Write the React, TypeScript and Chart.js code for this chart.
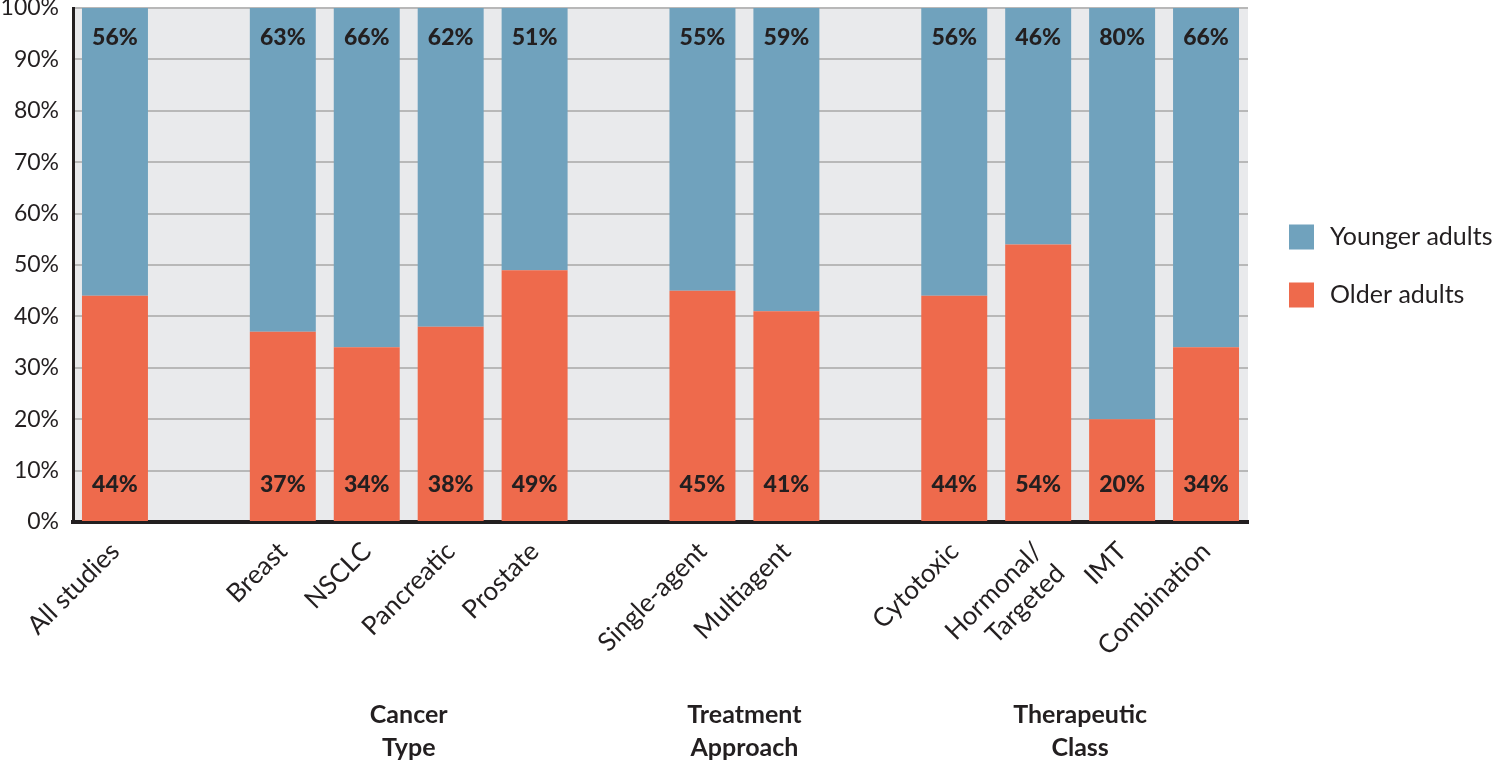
import React, { useEffect, useRef } from "react";
import { Chart, registerables } from "chart.js";

Chart.register(...registerables);

const categories: (string | string[])[] = [
  "All studies", "", "Breast", "NSCLC", "Pancreatic", "Prostate", "",
  "Single-agent", "Multiagent", "", "Cytotoxic", ["Hormonal/", "Targeted"], "IMT", "Combination",
];
const olderAdults = [44, null, 37, 34, 38, 49, null, 45, 41, null, 44, 54, 20, 34];
const youngerAdults = [56, null, 63, 66, 62, 51, null, 55, 59, null, 56, 46, 80, 66];
const groupLabels = [
  { lines: ["Cancer", "Type"], from: 2, to: 5 },
  { lines: ["Treatment", "Approach"], from: 7, to: 8 },
  { lines: ["Therapeutic", "Class"], from: 10, to: 13 },
];
const seriesNames = ["Younger adults", "Older adults"];
const BLUE = "#70a2bd";
const ORANGE = "#ee6a4c";
const INK = "#231f20";
const FONT = "Lato, 'Noto Sans', sans-serif";

export default function App() {
  const ref = useRef<HTMLCanvasElement | null>(null);
  useEffect(() => {
    if (!ref.current) return;
    const plugin = {
      id: "custom",
      beforeDraw(chart: any) {
        const { ctx, chartArea } = chart;
        ctx.save();
        ctx.fillStyle = "#e9eaec";
        ctx.fillRect(chartArea.left, chartArea.top, chartArea.right - chartArea.left, chartArea.bottom - chartArea.top);
        ctx.restore();
      },
      afterDatasetsDraw(chart: any) {
        const { ctx, chartArea } = chart;
        ctx.save();
        ctx.font = `900 23px ${FONT}`;
        ctx.fillStyle = INK;
        ctx.textAlign = "center";
        ctx.textBaseline = "middle";
        const metaOld = chart.getDatasetMeta(0);
        const metaYoung = chart.getDatasetMeta(1);
        metaOld.data.forEach((bar: any, i: number) => {
          if (olderAdults[i] == null) return;
          ctx.fillText(`${olderAdults[i]}%`, bar.x, chartArea.bottom - 37);
        });
        metaYoung.data.forEach((bar: any, i: number) => {
          if (youngerAdults[i] == null) return;
          ctx.fillText(`${youngerAdults[i]}%`, bar.x, chartArea.top + 30);
        });
        ctx.restore();
      },
      afterDraw(chart: any) {
        const { ctx } = chart;
        const xs = chart.scales.x;
        ctx.save();
        ctx.font = `bold 25px ${FONT}`;
        ctx.fillStyle = INK;
        ctx.textAlign = "center";
        ctx.textBaseline = "middle";
        groupLabels.forEach((g) => {
          const cx = (xs.getPixelForValue(g.from) + xs.getPixelForValue(g.to)) / 2;
          g.lines.forEach((l, k) => ctx.fillText(l, cx, 715 + k * 33));
        });
        const items = [
          { name: seriesNames[0], color: BLUE, y: 237 },
          { name: seriesNames[1], color: ORANGE, y: 295 },
        ];
        ctx.font = `25px ${FONT}`;
        ctx.textAlign = "left";
        items.forEach((it) => {
          ctx.fillStyle = it.color;
          ctx.fillRect(1289, it.y - 12.5, 25, 25);
          ctx.fillStyle = INK;
          ctx.fillText(it.name, 1330, it.y);
        });
        ctx.restore();
      },
    };
    const chart = new Chart(ref.current, {
      type: "bar",
      data: {
        labels: categories as any,
        datasets: [
          { label: seriesNames[1], data: olderAdults as any, backgroundColor: ORANGE, categoryPercentage: 0.786, barPercentage: 1 },
          { label: seriesNames[0], data: youngerAdults as any, backgroundColor: BLUE, categoryPercentage: 0.786, barPercentage: 1 },
        ],
      },
      options: {
        animation: false,
        responsive: false,
        maintainAspectRatio: false,
        layout: { padding: { top: 8, right: 252, left: 0, bottom: 0 } },
        plugins: { legend: { display: false }, tooltip: { enabled: false } },
        scales: {
          x: {
            stacked: true,
            grid: { display: false, drawTicks: false },
            border: { display: true, color: INK, width: 4 },
            ticks: {
              autoSkip: false,
              minRotation: 45,
              maxRotation: 45,
              padding: 14,
              color: INK,
              font: { family: FONT, size: 26 },
            },
            afterFit(scale: any) {
              scale.height = 242;
              scale.paddingLeft = 0;
              scale.paddingRight = 0;
            },
          },
          y: {
            stacked: true,
            min: 0,
            max: 100,
            grid: { color: "#b8b8b8", lineWidth: 2, drawTicks: false },
            border: { display: true, color: INK, width: 3 },
            ticks: {
              stepSize: 10,
              padding: 14,
              color: INK,
              font: { family: FONT, size: 23 },
              callback: (v: any) => `${v}%`,
            },
            afterFit(scale: any) {
              scale.width = 73;
              scale.paddingTop = 0;
              scale.paddingBottom = 0;
            },
          },
        },
      },
      plugins: [plugin],
    });
    return () => chart.destroy();
  }, []);
  return (
    <div style={{ position: "fixed", left: 0, top: 0, width: 1500, height: 764, background: "#fff" }}>
      <canvas ref={ref} width={1500} height={764} style={{ width: 1500, height: 764 }} />
    </div>
  );
}
